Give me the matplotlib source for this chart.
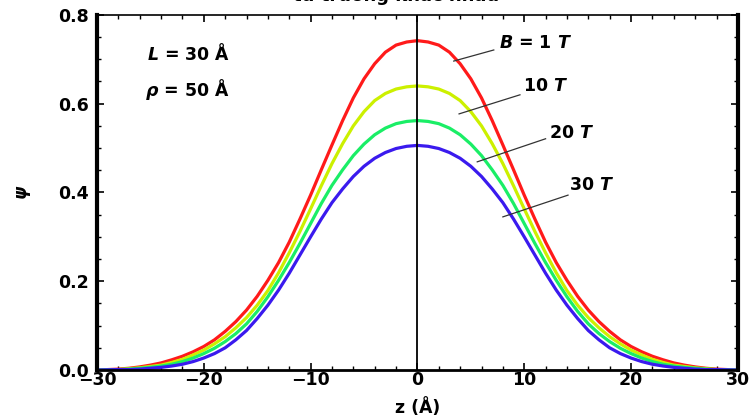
import matplotlib
matplotlib.use("Agg")
import matplotlib.pyplot as plt
from matplotlib.ticker import MultipleLocator

plt.rcParams['font.family'] = ['DejaVu Sans']
plt.rcParams['font.weight'] = 'bold'
plt.rcParams['mathtext.fontset'] = 'custom'
plt.rcParams['mathtext.it'] = 'DejaVu Sans:italic:bold'
plt.rcParams['mathtext.rm'] = 'DejaVu Sans:bold'

# nửa dương của trục z (Å); các đường đối xứng qua z = 0
z_half = list(range(0, 31))

psi_1T = [0.742, 0.739, 0.732, 0.716, 0.690, 0.656, 0.613, 0.562, 0.507, 0.451,
          0.394, 0.340, 0.288, 0.242, 0.202, 0.166, 0.135, 0.109, 0.087, 0.068,
          0.053, 0.041, 0.031, 0.023, 0.016, 0.011, 0.007, 0.004, 0.002, 0.001, 0.0]
psi_10T = [0.640, 0.638, 0.633, 0.623, 0.607, 0.582, 0.550, 0.510, 0.465, 0.415,
           0.363, 0.312, 0.264, 0.219, 0.179, 0.146, 0.118, 0.095, 0.075, 0.059,
           0.045, 0.034, 0.024, 0.017, 0.011, 0.008, 0.005, 0.003, 0.001, 0.0005, 0.0]
psi_20T = [0.562, 0.560, 0.555, 0.545, 0.530, 0.509, 0.483, 0.451, 0.416, 0.375,
           0.330, 0.285, 0.242, 0.202, 0.165, 0.132, 0.104, 0.082, 0.064, 0.049,
           0.037, 0.027, 0.019, 0.013, 0.009, 0.006, 0.004, 0.002, 0.001, 0.0005, 0.0]
psi_30T = [0.506, 0.504, 0.499, 0.490, 0.477, 0.459, 0.436, 0.408, 0.377, 0.340,
           0.300, 0.259, 0.218, 0.180, 0.146, 0.116, 0.089, 0.068, 0.050, 0.037,
           0.027, 0.019, 0.013, 0.009, 0.006, 0.004, 0.002, 0.001, 0.001, 0.0005, 0.0]

series = [psi_1T, psi_10T, psi_20T, psi_30T]
colors = ['#ff1a1a', '#ccf000', '#1aee66', '#3a1aee']
labels = ['$B$ = 1 $T$', '10 $T$', '20 $T$', '30 $T$']
# (điểm trên đường, đầu đường dẫn, vị trí chữ)
label_pos = [((3.4, 0.696), (7.15, 0.721), (7.6, 0.737)),
             ((3.9, 0.577), (9.6, 0.620), (9.9, 0.640)),
             ((5.6, 0.469), (12.0, 0.521), (12.3, 0.534)),
             ((8.0, 0.345), (14.1, 0.394), (14.2, 0.417))]

z_full = [-v for v in z_half[:0:-1]] + z_half

fig = plt.figure(figsize=(7.54, 4.20), dpi=100)
ax = fig.add_axes([0.1286, 0.119, 0.850, 0.8455])

for y, c in zip(series, colors):
    y_full = y[:0:-1] + y
    ax.plot(z_full, y_full, color=c, linewidth=2.3, solid_capstyle='round',
            solid_joinstyle='round')

ax.axvline(0, color='black', linewidth=1.3)

for lab, (p_end, p_start, p_txt) in zip(labels, label_pos):
    ax.plot([p_start[0], p_end[0]], [p_start[1], p_end[1]], color='#333333', linewidth=0.9)
    ax.text(p_txt[0], p_txt[1], lab, fontsize=12.5, fontweight='bold', va='center', ha='left')

ax.text(-25.3, 0.713, '$L$ = 30 Å', fontsize=12.5, fontweight='bold', va='center')
ax.text(-25.5, 0.631, r'$\rho$ = 50 Å', fontsize=12.5, fontweight='bold', va='center')

ax.set_xlim(-30, 30)
ax.set_ylim(0, 0.8)
ax.xaxis.set_major_locator(MultipleLocator(10))
ax.xaxis.set_minor_locator(MultipleLocator(2))
ax.yaxis.set_major_locator(MultipleLocator(0.2))
ax.yaxis.set_minor_locator(MultipleLocator(0.05))
ax.yaxis.set_major_formatter(plt.FuncFormatter(lambda v, p: f'{v:.1f}'))
ax.tick_params(which='both', direction='in', top=True, right=True, labelsize=12.5)
ax.tick_params(which='major', length=5, width=1.2)
ax.tick_params(which='minor', length=3, width=1.0)
ax.tick_params(axis='x', pad=1)
ax.tick_params(axis='y', pad=6)

ax.spines['left'].set_linewidth(3)
ax.spines['right'].set_linewidth(3)
ax.spines['bottom'].set_linewidth(2)
ax.spines['top'].set_linewidth(1.2)

ax.set_xlabel('z (Å)', fontsize=12.5, fontweight='bold', labelpad=6)
ax.set_ylabel(r'$\psi$', fontsize=12, labelpad=18)

# tiêu đề bị cắt ở mép trên
fig.text(0.525, 1 - 1.0 / 420, 'từ trường khác nhau', fontsize=13, fontweight='bold',
         ha='center', va='baseline')

fig.savefig('out.png', dpi=100)
